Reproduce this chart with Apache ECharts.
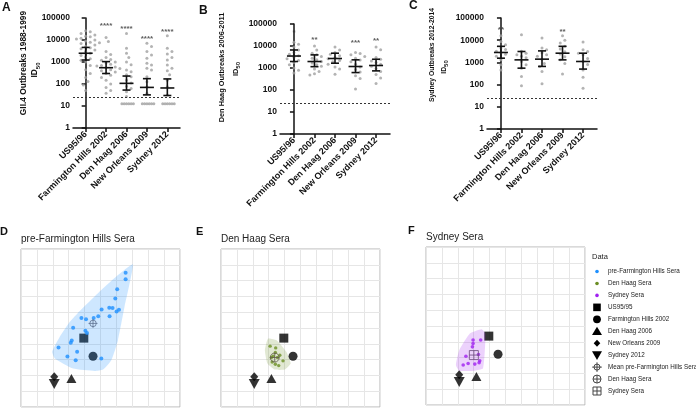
<!DOCTYPE html>
<html><head><meta charset="utf-8">
<script src="https://cdn.jsdelivr.net/npm/echarts@6/dist/echarts.min.js"></script>
<style>html,body{margin:0;padding:0;background:#fff}#c{width:696px;height:409px}</style>
</head><body><div id="c"></div>
<script>
// ---------- DATA ----------
const cats = ['US95/96', 'Farmington Hills 2002', 'Den Haag 2006', 'New Orleans 2009', 'Sydney 2012'];
const yTicks = [1, 10, 100, 1000, 10000, 100000];
const LOD = 25;

// Panel A: GII.4 Outbreaks 1988-1999 sera
const A_pts = [
  [26000, 24000, 20000, 17000, 15000, 14000, 12000, 11000, 10000, 9000, 8000, 7500, 7000, 6000, 5000, 4500, 4000, 3500, 3000, 2500, 2000, 1700, 1400, 1200, 1000, 700, 450, 300, 200, 130, 90, 50],
  [13000, 8500, 3000, 2200, 1600, 1300, 1200, 1000, 900, 800, 700, 650, 600, 550, 500, 450, 400, 350, 300, 250, 200, 150, 100, 70, 50, 38],
  [20000, 4200, 2500, 1600, 1000, 750, 430, 360, 260, 215, 150, 110, 80, 63, 45, 27, 12.5, 12.5, 12.5, 12.5, 12.5, 12.5],
  [7100, 5000, 3000, 2100, 1500, 880, 730, 520, 430, 215, 128, 75, 38, 12.5, 12.5, 12.5, 12.5, 12.5, 12.5],
  [15800, 4200, 3000, 2300, 1600, 1230, 730, 520, 400, 260, 150, 75, 32, 12.5, 12.5, 12.5, 12.5, 12.5, 12.5]
];
const A_mean = [2500, 550, 107, 70, 66];
const A_lo = [1230, 300, 53, 32, 30];
const A_hi = [4600, 1040, 230, 175, 170];
const A_sig = ['', '****', '****', '****', '****'];
const A_sigY = [0, 45000, 31600, 11000, 24000];

// Panel B: Den Haag Outbreaks 2006-2011 sera
const B_pts = [
  [15000, 12000, 9000, 6500, 5000, 4200, 3600, 3000, 2600, 2200, 1800, 1400, 1000, 800, 600],
  [10000, 6500, 4700, 4000, 3300, 2800, 2400, 2000, 1700, 1400, 1200, 900, 700, 550, 480],
  [9000, 6500, 5000, 4200, 3600, 3000, 2600, 2200, 1900, 1500, 1100, 900, 520],
  [5000, 4600, 4000, 3300, 2800, 2300, 1900, 1500, 1100, 850, 650, 450, 330, 110],
  [9000, 6800, 3000, 2500, 2100, 1800, 1500, 1200, 950, 700, 500, 350, 200]
];
const B_mean = [3500, 1970, 2700, 1170, 1300];
const B_lo = [1970, 1150, 1650, 620, 740];
const B_hi = [6600, 3950, 4700, 2350, 2500];
const B_sig = ['*', '**', '', '***', '**'];
const B_sigY = [38000, 20000, 0, 13300, 17600];

// Panel C: Sydney Outbreaks 2012-2014 sera
const C_pts = [
  [16000, 8800, 6200, 4500, 3800, 3200, 2700, 2300, 1900, 1300, 780, 460],
  [17700, 3200, 2600, 2200, 1900, 1600, 1100, 780, 550, 230, 88],
  [12500, 4400, 3700, 2700, 2200, 1900, 1400, 900, 660, 390, 108],
  [16000, 10000, 7400, 5300, 4000, 3000, 2400, 1800, 1300, 900, 300],
  [8200, 3700, 3100, 2600, 2200, 1500, 1100, 800, 460, 215, 68]
];
const C_mean = [2800, 1300, 1400, 2600, 1100];
const C_lo = [1550, 550, 660, 1300, 500];
const C_hi = [5300, 3100, 3300, 5300, 2600];
const C_sig = ['**', '', '', '**', ''];
const C_sigY = [29700, 0, 0, 25000, 0];

// Antigenic map: reference VLPs (same in D, E, F)
const refNames = ['US95/95', 'Farmington Hills 2002', 'Den Haag 2006', 'New Orleans 2009', 'Sydney 2012'];
const refX = [3.95, 4.53, 3.17, 2.09, 2.09];
const refY = [4.36, 3.21, 1.80, 1.92, 1.46];

// D: pre-Farmington Hills sera
const D_x = [6.58, 6.58, 6.05, 5.93, 5.55, 5.76, 6.16, 6.01, 5.07, 5.57, 4.86, 4.57, 3.80, 4.09, 3.28, 4.05, 4.15, 3.19, 3.13, 2.36, 3.53, 2.92, 3.44, 5.05];
const D_y = [8.50, 8.08, 7.46, 6.87, 6.28, 6.26, 6.15, 6.05, 6.17, 5.75, 5.75, 5.64, 5.64, 5.56, 5.01, 4.82, 4.69, 4.21, 4.06, 3.76, 3.49, 3.19, 2.96, 3.07];
const D_mean = [4.53, 5.29];
const D_hullX = [7.04, 6.51, 6.10, 5.68, 5.16, 4.63, 3.28, 2.13, 1.96, 2.44, 3.07, 3.55, 5.05, 6.10];
const D_hullY = [9.03, 6.34, 4.23, 2.96, 2.37, 2.28, 2.43, 3.07, 3.49, 4.44, 5.39, 5.92, 7.40, 8.35];

// E: Den Haag sera
const E_x = [3.09, 3.44, 3.42, 3.28, 3.55, 3.22, 3.42, 3.63, 3.90, 3.17, 3.70];
const E_y = [3.85, 3.74, 3.45, 3.21, 3.13, 2.85, 2.71, 2.62, 2.92, 3.13, 3.28];
const E_mean = [3.38, 3.13];
const E_hullX = [2.96, 3.49, 4.11, 4.38, 4.01, 3.38, 2.92, 2.76];
const E_hullY = [4.33, 4.23, 3.49, 2.75, 2.37, 2.37, 2.75, 3.59];

// F: Sydney sera
const F_x = [2.96, 3.44, 2.96, 2.92, 2.51, 3.30, 2.65, 2.34, 3.07, 3.34, 3.38];
const F_y = [4.11, 4.11, 3.89, 3.68, 3.09, 3.20, 2.63, 2.53, 2.59, 2.67, 2.80];
const F_mean = [3.01, 3.16];
const F_hullX = [2.76, 3.49, 3.74, 3.59, 3.07, 2.09, 1.88, 2.09];
const F_hullY = [4.53, 4.80, 4.53, 2.32, 2.17, 2.17, 2.53, 3.47];

const legendNames = ['pre-Farmington Hills Sera', 'Den Haag Sera', 'Sydney Sera', 'US95/95', 'Farmington Hills 2002', 'Den Haag 2006', 'New Orleans 2009', 'Sydney 2012', 'Mean pre-Farmington Hills Sera', 'Den Haag Sera', 'Sydney Sera'];

// ---------- STYLE / LAYOUT ----------
const FONT = '"Liberation Sans", Arial, Helvetica, sans-serif';
const INK = '#111';
const PATH_CROSSHAIR = 'path://M5,0L5,10M0,5L10,5M8.6,5A3.6,3.6,0,1,1,1.4,5A3.6,3.6,0,1,1,8.6,5Z';
const PATH_OPLUS = 'path://M5,0A5,5,0,1,1,5,10A5,5,0,1,1,5,0ZM5,0L5,10M0,5L10,5';
const PATH_SQPLUS = 'path://M0,0L10,0L10,10L0,10ZM5,0L5,10M0,5L10,5';
const refSym = ['rect', 'circle', 'triangle', 'diamond', 'triangle'];
const refSize = [[9, 9], [9, 9], [10, 9], [8, 9], [11, 10]];
const refRot = [0, 0, 0, 0, 180];

const topLayout = [
  {left: 73, top: 18, width: 107, height: 110, xmin: -0.62, xmax: 4.62},
  {left: 280, top: 24, width: 110, height: 110, xmin: -0.68, xmax: 4.68},
  {left: 487, top: 18, width: 110, height: 111, xmin: -0.68, xmax: 4.68}
];
const botLayout = [
  {left: 21, top: 249, width: 159, height: 158},
  {left: 221, top: 249, width: 159, height: 158},
  {left: 426, top: 247, width: 159, height: 158}
];

const topPanels = [
  {pts: A_pts, mean: A_mean, lo: A_lo, hi: A_hi, sig: A_sig, sigY: A_sigY},
  {pts: B_pts, mean: B_mean, lo: B_lo, hi: B_hi, sig: B_sig, sigY: B_sigY},
  {pts: C_pts, mean: C_mean, lo: C_lo, hi: C_hi, sig: C_sig, sigY: C_sigY}
];
const botPanels = [
  {x: D_x, y: D_y, mean: D_mean, hx: D_hullX, hy: D_hullY, color: '#1e90ff', hull: 'rgba(30,144,255,0.22)', meanSym: PATH_CROSSHAIR, meanColor: '#5d7090', size: 4},
  {x: E_x, y: E_y, mean: E_mean, hx: E_hullX, hy: E_hullY, color: '#6b8e23', hull: 'rgba(107,142,35,0.2)', meanSym: PATH_OPLUS, meanColor: '#5f5a48', size: 3.4},
  {x: F_x, y: F_y, mean: F_mean, hx: F_hullX, hy: F_hullY, color: '#a020f0', hull: 'rgba(160,32,240,0.2)', meanSym: PATH_SQPLUS, meanColor: '#6a4a7c', size: 3.6}
];

// simple deterministic beeswarm (horizontal offsets only)
function swarm(vals, pxPerCat, pxPerDec) {
  const placed = [], out = [];
  const step = 2.3;
  vals.forEach(v => {
    const y = Math.log10(v) * pxPerDec;
    let off = 0;
    for (let k = 0; k < 60; k++) {
      off = k === 0 ? 0 : ((k % 2) ? 1 : -1) * Math.ceil(k / 2) * step;
      if (!placed.some(p => Math.hypot(p[0] - off, p[1] - y) < (Math.abs(p[1] - y) < 0.01 ? 2.3 : 4.6))) break;
    }
    placed.push([off, y]);
    out.push(off / pxPerCat);
  });
  return out;
}

const grids = [], xAxes = [], yAxes = [], series = [];

topLayout.forEach((L, k) => {
  grids.push({left: L.left, top: L.top, width: L.width, height: L.height, containLabel: false});
  xAxes.push({
    type: 'value', gridIndex: k, min: L.xmin, max: L.xmax,
    axisLine: {show: true, lineStyle: {color: INK, width: 1.5}},
    axisTick: {show: true, length: 4, lineStyle: {color: INK, width: 1.5}, customValues: cats.map((c, i) => i)},
    axisLabel: {show: true, customValues: cats.map((c, i) => i), formatter: v => cats[Math.round(v)] || '',
      rotate: 45, fontSize: 9, fontWeight: 'bold', color: INK, fontFamily: FONT, margin: 5},
    splitLine: {show: false}
  });
  yAxes.push({
    type: 'log', logBase: 10, gridIndex: k, min: yTicks[0], max: yTicks[yTicks.length - 1],
    axisLine: {show: true, lineStyle: {color: INK, width: 1.5}},
    axisTick: {show: true, length: 4, lineStyle: {color: INK, width: 1.5}},
    axisLabel: {formatter: v => String(Math.round(v)), fontSize: 8.5, fontWeight: 'bold', color: INK, fontFamily: FONT, margin: 3},
    splitLine: {show: false}
  });
  const P = topPanels[k];
  const pxPerCat = L.width / (L.xmax - L.xmin);
  const pxPerDec = L.height / 5;
  const pts = [];
  P.pts.forEach((arr, i) => {
    const offs = swarm(arr, pxPerCat, pxPerDec);
    arr.forEach((v, j) => pts.push([i + offs[j], v]));
  });
  series.push({
    type: 'scatter', xAxisIndex: k, yAxisIndex: k, data: pts, symbolSize: 3, z: 2, silent: true,
    itemStyle: {color: '#a0a0a0'},
    markLine: {silent: true, symbol: 'none', label: {show: false}, animation: false,
      lineStyle: {type: [2, 2], color: '#333', width: 1}, data: [{yAxis: LOD}]}
  });
  series.push({
    type: 'custom', xAxisIndex: k, yAxisIndex: k, z: 3, silent: true,
    data: cats.map((c, i) => [i, P.mean[i], P.lo[i], P.hi[i]]),
    encode: {x: 0, y: [1, 2, 3]},
    renderItem: (params, api) => {
      const x = api.value(0);
      const pm = api.coord([x, api.value(1)]);
      const pl = api.coord([x, api.value(2)]);
      const ph = api.coord([x, api.value(3)]);
      const st = {stroke: INK, lineWidth: 1.6};
      const W = 7, C = 4;
      return {type: 'group', children: [
        {type: 'line', shape: {x1: pm[0], y1: pl[1], x2: pm[0], y2: ph[1]}, style: st},
        {type: 'line', shape: {x1: pm[0] - W, y1: pm[1], x2: pm[0] + W, y2: pm[1]}, style: st},
        {type: 'line', shape: {x1: pm[0] - C, y1: pl[1], x2: pm[0] + C, y2: pl[1]}, style: st},
        {type: 'line', shape: {x1: pm[0] - C, y1: ph[1], x2: pm[0] + C, y2: ph[1]}, style: st}
      ]};
    }
  });
  series.push({
    type: 'scatter', xAxisIndex: k, yAxisIndex: k, z: 4, silent: true, symbolSize: 1,
    itemStyle: {color: 'rgba(0,0,0,0)'},
    data: P.sig.map((s, i) => s ? {name: s, value: [i, P.sigY[i]]} : null).filter(Boolean),
    label: {show: true, position: 'inside', formatter: p => p.name, fontSize: 8, fontWeight: 'bold', color: '#333', fontFamily: FONT}
  });
});

botLayout.forEach((L, j) => {
  const gi = 3 + j;
  grids.push({left: L.left, top: L.top, width: L.width, height: L.height, show: true, borderColor: '#b5b5b5', borderWidth: 1, backgroundColor: '#fff'});
  const ax = {type: 'value', gridIndex: gi, min: 0, max: 10, interval: 1,
    axisLine: {show: false}, axisTick: {show: false}, axisLabel: {show: false},
    splitLine: {show: true, lineStyle: {color: '#e6e6e6', width: 1}}};
  xAxes.push(Object.assign({}, ax));
  yAxes.push(Object.assign({}, ax));
  const P = botPanels[j];
  series.push({
    type: 'scatter', xAxisIndex: gi, yAxisIndex: gi, z: 2, silent: true,
    itemStyle: {color: '#000'},
    data: refX.map((x, i) => ({name: refNames[i], value: [x, refY[i]], symbol: refSym[i], symbolSize: refSize[i], symbolRotate: refRot[i]}))
  });
  series.push({
    type: 'custom', xAxisIndex: gi, yAxisIndex: gi, z: 3, silent: true,
    data: P.hx.map((x, i) => [x, P.hy[i]]),
    encode: {x: 0, y: 1},
    renderItem: (params, api) => {
      if (params.dataIndex !== 0) return null;
      const points = P.hx.map((x, i) => api.coord([x, P.hy[i]]));
      return {type: 'polygon', shape: {points: points, smooth: 0.15}, style: {fill: P.hull, stroke: 'none'}};
    }
  });
  series.push({
    type: 'scatter', xAxisIndex: gi, yAxisIndex: gi, z: 4, silent: true, symbolSize: P.size,
    itemStyle: {color: P.color},
    data: P.x.map((x, i) => [x, P.y[i]])
  });
  series.push({
    type: 'scatter', xAxisIndex: gi, yAxisIndex: gi, z: 5, silent: true, symbol: P.meanSym, symbolSize: 9,
    itemStyle: {color: 'rgba(0,0,0,0)', borderColor: P.meanColor, borderWidth: 1},
    data: [P.mean]
  });
});

// ---------- text & legend (graphic) ----------
const g = [];
function txt(t, x, y, o) {
  g.push(Object.assign({type: 'text', x: x, y: y, silent: true,
    style: Object.assign({text: t, fontFamily: FONT, fill: '#111'}, o.style || {})}, o.el || {}));
}
// panel letters
[['A', 2, 8], ['B', 199, 11], ['C', 409, 6]].forEach(a => txt(a[0], a[1], a[2], {style: {fontSize: 12, fontWeight: 'bold', verticalAlign: 'middle'}}));
[['D', 0, 232], ['E', 196, 232], ['F', 408, 231]].forEach(a => txt(a[0], a[1], a[2], {style: {fontSize: 11, fontWeight: 'bold', verticalAlign: 'middle'}}));
// y titles: [text, x, y, font, idX, idY]
const yTitles = [['GII.4 Outbreaks 1988-1999', 23.5, 63, 8.4, 35, 70], ['Den Haag Outbreaks 2006-2011', 222, 67.5, 7.4, 236, 69], ['Sydney Outbreaks 2012-2014', 432, 55, 6.8, 444, 67]];
yTitles.forEach(t => {
  txt(t[0], t[1], t[2], {el: {rotation: Math.PI / 2}, style: {fontSize: t[3], fontWeight: 'bold', align: 'center', verticalAlign: 'middle'}});
  txt('{a|ID}{b|50}', t[4], t[5], {el: {rotation: Math.PI / 2}, style: {align: 'center', verticalAlign: 'middle',
    rich: {a: {fontSize: t[3], fontWeight: 'bold', fontFamily: FONT, fill: '#111', verticalAlign: 'bottom'},
           b: {fontSize: 6, fontWeight: 'bold', fontFamily: FONT, fill: '#111', verticalAlign: 'bottom', padding: [0, 0, -2, 0]}}}});
});
// map titles
[['pre-Farmington Hills Sera', 21, 239], ['Den Haag Sera', 221, 239], ['Sydney Sera', 426, 237]].forEach(a =>
  txt(a[0], a[1], a[2], {style: {fontSize: 10, verticalAlign: 'middle', fill: '#222'}}));
// legend
txt('Data', 592, 257, {style: {fontSize: 7.5, verticalAlign: 'middle', fill: '#222'}});
const LX = 597, LT = 608, LY0 = 271.5, LDY = 11.95;
const strokeSt = {fill: 'none', stroke: '#444', lineWidth: 1};
legendNames.forEach((n, i) => {
  const y = LY0 + i * LDY;
  txt(n, LT, y, {style: {fontSize: 6.3, verticalAlign: 'middle', fill: '#222'}});
  let el;
  if (i < 3) el = {type: 'circle', shape: {cx: LX, cy: y, r: 1.8}, style: {fill: botPanels[i].color}};
  else if (i === 3) el = {type: 'rect', shape: {x: LX - 3.8, y: y - 3.8, width: 7.6, height: 7.6}, style: {fill: '#000'}};
  else if (i === 4) el = {type: 'circle', shape: {cx: LX, cy: y, r: 3.9}, style: {fill: '#000'}};
  else if (i === 5) el = {type: 'polygon', shape: {points: [[LX, y - 4.5], [LX + 5, y + 3.8], [LX - 5, y + 3.8]]}, style: {fill: '#000'}};
  else if (i === 6) el = {type: 'polygon', shape: {points: [[LX, y - 3.5], [LX + 3.3, y], [LX, y + 3.5], [LX - 3.3, y]]}, style: {fill: '#000'}};
  else if (i === 7) el = {type: 'polygon', shape: {points: [[LX - 5, y - 4], [LX + 5, y - 4], [LX, y + 4.8]]}, style: {fill: '#000'}};
  else {
    const R = i === 8 ? 3 : 4;
    const H = i === 8 ? 4.8 : 4;
    const base = i === 10
      ? {type: 'rect', shape: {x: LX - 4, y: y - 4, width: 8, height: 8}, style: strokeSt}
      : {type: 'circle', shape: {cx: LX, cy: y, r: R}, style: strokeSt};
    el = {type: 'group', children: [
      base,
      {type: 'line', shape: {x1: LX - H, y1: y, x2: LX + H, y2: y}, style: strokeSt},
      {type: 'line', shape: {x1: LX, y1: y - H, x2: LX, y2: y + H}, style: strokeSt}
    ]};
  }
  el.silent = true;
  g.push(el);
});

const chart = echarts.init(document.getElementById('c'), null, {renderer: 'canvas'});
chart.setOption({
  animation: false,
  backgroundColor: '#fff',
  textStyle: {fontFamily: FONT},
  grid: grids, xAxis: xAxes, yAxis: yAxes, series: series, graphic: g
});
</script></body></html>
